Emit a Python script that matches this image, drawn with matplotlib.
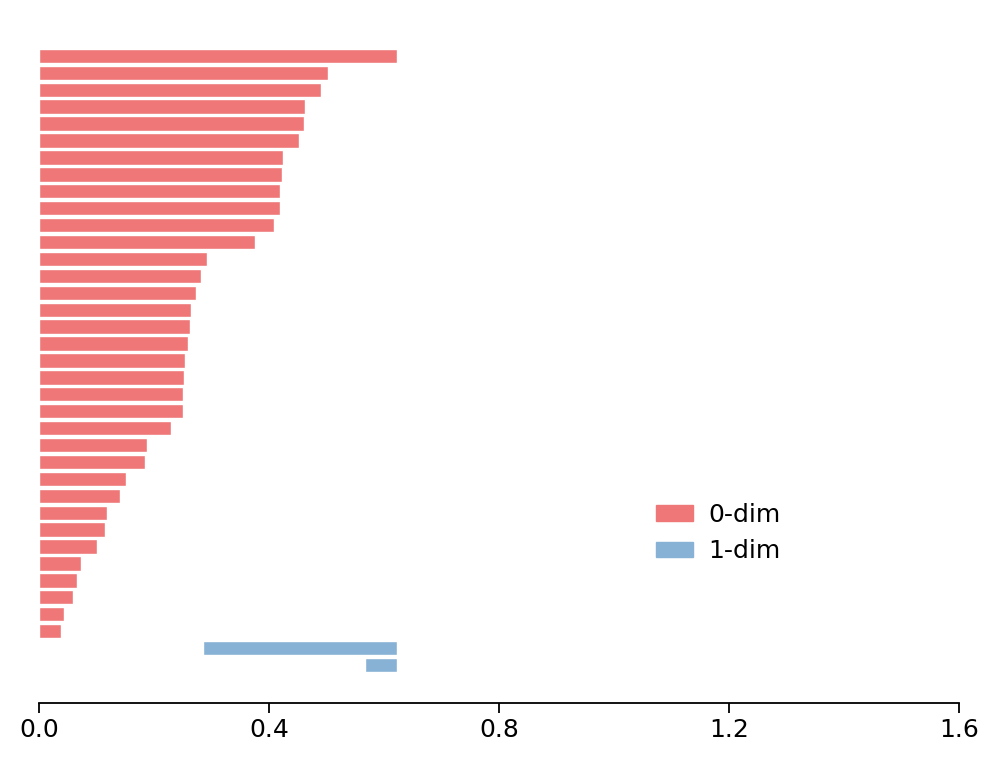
import numpy as np
import matplotlib
matplotlib.use('Agg')
import matplotlib.pyplot as plt
from matplotlib.patches import Patch

# persistence barcode: (birth, death) per feature
dim0_birth = [0.0] * 35
dim0_death = [0.623, 0.503, 0.490, 0.463, 0.461, 0.452, 0.424, 0.423, 0.419, 0.419,
              0.409, 0.376, 0.292, 0.282, 0.273, 0.264, 0.263, 0.259, 0.254, 0.252,
              0.250, 0.250, 0.230, 0.188, 0.184, 0.151, 0.141, 0.118, 0.115, 0.101,
              0.073, 0.066, 0.059, 0.043, 0.038]
dim1_birth = [0.285, 0.567]
dim1_death = [0.623, 0.623]
labels = ['0-dim', '1-dim']
colors = ['#ef7777', '#87b1d5']

fig = plt.figure(figsize=(9.98, 7.65), dpi=100)
ax = fig.add_axes([0.039, 0.081, 0.922, 0.868])

n0 = len(dim0_death)
y0 = np.arange(n0)
y1 = np.arange(n0, n0 + len(dim1_death))
ax.barh(y0, np.array(dim0_death) - np.array(dim0_birth), left=dim0_birth,
        height=0.85, color=colors[0], edgecolor='white', linewidth=1)
ax.barh(y1, np.array(dim1_death) - np.array(dim1_birth), left=dim1_birth,
        height=0.85, color=colors[1], edgecolor='white', linewidth=1)

ax.set_xlim(0, 1.6)
ax.set_ylim(n0 + len(dim1_death) + 1.25, -1)
ax.set_xticks([0.0, 0.4, 0.8, 1.2, 1.6])
ax.set_yticks([])
for s in ['left', 'right', 'top']:
    ax.spines[s].set_visible(False)
ax.spines['bottom'].set_linewidth(1.3)
ax.tick_params(axis='x', labelsize=18, length=7, width=1.3)

handles = [Patch(color=c, label=l) for c, l in zip(colors, labels)]
ax.legend(handles=handles, loc='center left', bbox_to_anchor=(0.646, 0.256),
          frameon=False, fontsize=18, handlelength=1.5, handleheight=0.6,
          handletextpad=0.6, labelspacing=0.5)

fig.savefig('out.png', dpi=100)
